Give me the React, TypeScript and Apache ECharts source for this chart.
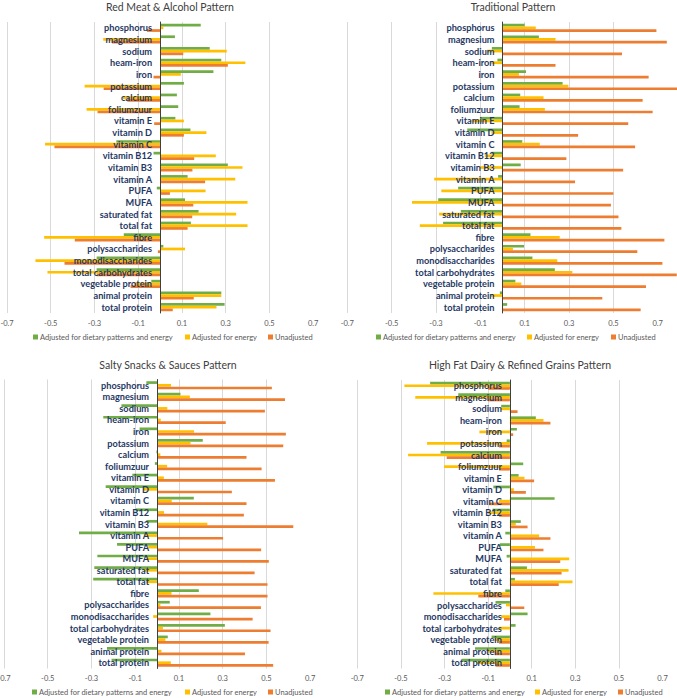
import React, { useEffect, useRef } from 'react';
import * as echarts from 'echarts';

const categories = [
  'phosphorus', 'magnesium', 'sodium', 'heam-iron', 'iron', 'potassium', 'calcium', 'foliumzuur',
  'vitamin E', 'vitamin D', 'vitamin C', 'vitamin B12', 'vitamin B3', 'vitamin A', 'PUFA', 'MUFA',
  'saturated fat', 'total fat', 'fibre', 'polysaccharides', 'monodisaccharides', 'total carbohydrates',
  'vegetable protein', 'animal protein', 'total protein',
];

const seriesNames = ['Adjusted for dietary patterns and energy', 'Adjusted for energy', 'Unadjusted'];
const panelTitles = [
  'Red Meat & Alcohol Pattern',
  'Traditional Pattern',
  'Salty Snacks & Sauces Pattern',
  'High Fat Dairy & Refined Grains Pattern',
];
const tickValues = [-0.7, -0.5, -0.3, -0.1, 0.1, 0.3, 0.5, 0.7];

// Red Meat & Alcohol Pattern
const redMeatDietEnergy = [0.186, 0.068, 0.227, 0.28, 0.244, 0.109, 0.077, 0.083, 0.07, 0.139, -0.2, -0.03, 0.31, 0.126, -0.015, 0.114, 0.176, 0.141, -0.166, 0.015, -0.29, -0.29, -0.04, 0.28, 0.295];
const redMeatEnergy = [0.015, -0.26, 0.305, 0.39, 0.095, -0.345, -0.17, -0.336, 0.109, 0.212, -0.526, 0.255, 0.377, 0.344, 0.208, 0.4, 0.348, 0.4, -0.53, 0.114, -0.57, -0.515, -0.12, 0.28, 0.258];
const redMeatUnadj = [-0.06, -0.22, 0.106, 0.31, -0.03, -0.258, -0.15, -0.286, -0.027, 0.109, -0.483, 0.156, 0.148, 0.206, 0.045, 0.152, 0.147, 0.126, -0.39, -0.01, -0.437, -0.29, -0.135, 0.154, 0.058];

// Traditional Pattern
const tradDietEnergy = [0.1, 0.164, -0.048, -0.023, 0.106, 0.271, 0.08, 0.077, -0.1, -0.159, 0.089, -0.05, 0.082, -0.02, -0.2, -0.29, -0.188, -0.268, 0.126, 0.097, 0.135, 0.236, 0.058, -0.012, 0.021];
const tradEnergy = [0.15, 0.239, -0.07, -0.05, 0.074, 0.297, 0.185, 0.191, -0.14, -0.05, 0.168, -0.08, -0.1, -0.308, -0.276, -0.408, -0.286, -0.373, 0.258, 0.047, 0.247, 0.315, 0.085, -0.052, 0.003];
const tradUnadj = [0.694, 0.741, 0.539, 0.239, 0.659, 0.79, 0.632, 0.677, 0.567, 0.341, 0.598, 0.288, 0.544, 0.327, 0.5, 0.489, 0.523, 0.536, 0.73, 0.608, 0.721, 0.786, 0.647, 0.45, 0.623];

// Salty Snacks & Sauces Pattern
const snacksDietEnergy = [-0.049, 0.107, -0.163, -0.246, -0.08, 0.209, -0.003, -0.01, -0.113, -0.235, 0.168, -0.098, -0.049, -0.357, -0.183, -0.273, -0.287, -0.292, 0.191, 0.058, 0.244, 0.31, 0.049, -0.229, -0.208];
const snacksEnergy = [0.064, 0.15, 0.047, 0.017, 0.169, 0.153, 0.015, 0.046, 0.031, -0.064, 0.067, 0.032, 0.23, -0.06, -0.04, -0.05, -0.06, -0.05, 0.066, 0.015, -0.018, 0.027, 0.038, 0.02, 0.063];
const snacksUnadj = [0.525, 0.585, 0.493, 0.314, 0.589, 0.577, 0.409, 0.478, 0.539, 0.342, 0.409, 0.397, 0.623, 0.302, 0.476, 0.511, 0.446, 0.505, 0.505, 0.475, 0.437, 0.519, 0.51, 0.402, 0.531];

// High Fat Dairy & Refined Grains Pattern
const dairyDietEnergy = [-0.366, -0.237, -0.04, 0.119, 0.032, -0.015, -0.318, 0.061, 0.04, -0.076, 0.205, -0.08, 0.05, -0.021, -0.046, -0.015, 0.078, 0.023, -0.021, -0.066, 0.081, 0.026, -0.084, -0.16, -0.221];
const dairyEnergy = [-0.484, -0.434, -0.04, 0.154, -0.14, -0.38, -0.467, -0.302, 0.067, 0.018, -0.05, -0.1, 0.027, 0.134, 0.115, 0.272, 0.269, 0.287, -0.351, -0.018, -0.04, -0.05, -0.07, -0.1, -0.15];
const dairyUnadj = [-0.1, -0.1, 0.035, 0.186, 0.015, -0.05, -0.29, -0.05, 0.111, 0.073, -0.095, -0.05, 0.081, 0.186, 0.154, 0.231, 0.237, 0.224, -0.145, 0.066, -0.027, 0.003, -0.05, -0.07, -0.066];

const panelData = [
  [redMeatDietEnergy, redMeatEnergy, redMeatUnadj],
  [tradDietEnergy, tradEnergy, tradUnadj],
  [snacksDietEnergy, snacksEnergy, snacksUnadj],
  [dairyDietEnergy, dairyEnergy, dairyUnadj],
];

const COLORS = ['#70AD47', '#FFC000', '#ED7D31'];
const FONT = 'Lato, "Noto Sans", sans-serif';
const X_MIN = -0.7;
const X_MAX = 0.8;

const layouts = [
  { grid: { left: 7, top: 22, width: 328, height: 291 }, title: [170, 7], legendX: [33, 185, 268], legendY: 333 },
  { grid: { left: 347.3, top: 22, width: 332.6, height: 291 }, title: [513, 7], legendX: [376, 527, 611], legendY: 333 },
  { grid: { left: 4, top: 379.5, width: 328, height: 289 }, title: [168, 365], legendX: [32, 185, 268], legendY: 688 },
  { grid: { left: 357.3, top: 380, width: 327, height: 288.5 }, title: [520, 365], legendX: [385, 535, 618], legendY: 688 },
];

export default function App() {
  const ref = useRef<HTMLDivElement>(null);
  useEffect(() => {
    document.body.style.margin = '0';
    const chart = echarts.init(ref.current!, null, { renderer: 'svg' });
    const grids: any[] = [];
    const xAxes: any[] = [];
    const yAxes: any[] = [];
    const series: any[] = [];
    const legends: any[] = [];
    const graphics: any[] = [];
    layouts.forEach((lay, i) => {
      grids.push({ ...lay.grid, containLabel: false, outerBoundsMode: 'none' });
      // distance (px) from the grid's left edge to the value 0
      const zeroOffset = (-X_MIN / (X_MAX - X_MIN)) * lay.grid.width;
      xAxes.push({
        type: 'value',
        gridIndex: i,
        min: X_MIN,
        max: X_MAX,
        axisLine: { show: false },
        axisTick: { show: false, customValues: tickValues },
        axisLabel: {
          customValues: tickValues,
          fontSize: 7.5,
          color: '#595959',
          fontFamily: FONT,
          margin: 6,
          formatter: (v: number) => v.toFixed(1),
        },
        splitLine: { show: true, showMaxLine: false, lineStyle: { color: '#d9d9d9', width: 1 } },
      });
      yAxes.push({
        type: 'category',
        gridIndex: i,
        data: categories,
        inverse: true,
        position: 'left',
        offset: -zeroOffset,
        z: 5,
        axisLine: { show: true, onZero: false, lineStyle: { color: '#404040', width: 1 } },
        axisTick: { show: false },
        splitLine: { show: false },
        axisLabel: {
          color: '#1F3864',
          fontWeight: 'bold',
          fontSize: 9.2,
          fontFamily: FONT,
          margin: 8,
          interval: 0,
        },
      });
      panelData[i].forEach((vals, s) => {
        series.push({
          type: 'bar',
          name: seriesNames[s],
          xAxisIndex: i,
          yAxisIndex: i,
          data: vals,
          itemStyle: { color: COLORS[s] },
          barGap: '0%',
          barCategoryGap: '30%',
        });
      });
      seriesNames.forEach((nm, s) => {
        legends.push({
          data: [nm],
          left: lay.legendX[s],
          top: lay.legendY,
          icon: 'rect',
          itemWidth: 5,
          itemHeight: 5,
          padding: 0,
          selectedMode: false,
          textStyle: { fontSize: 7.5, color: '#595959', fontFamily: FONT, padding: [0, 0, 0, -3] },
        });
      });
      graphics.push({
        type: 'text',
        x: lay.title[0],
        y: lay.title[1],
        style: {
          text: panelTitles[i],
          textAlign: 'center',
          textVerticalAlign: 'middle',
          fontSize: 10.5,
          fontFamily: FONT,
          fill: '#404040',
        },
      });
    });
    chart.setOption({
      animation: false,
      backgroundColor: '#ffffff',
      grid: grids,
      xAxis: xAxes,
      yAxis: yAxes,
      series,
      legend: legends,
      graphic: graphics,
    });
    return () => chart.dispose();
  }, []);
  return (
    <div
      ref={ref}
      style={{ position: 'absolute', left: 0, top: 0, width: 677, height: 698 }}
    />
  );
}
